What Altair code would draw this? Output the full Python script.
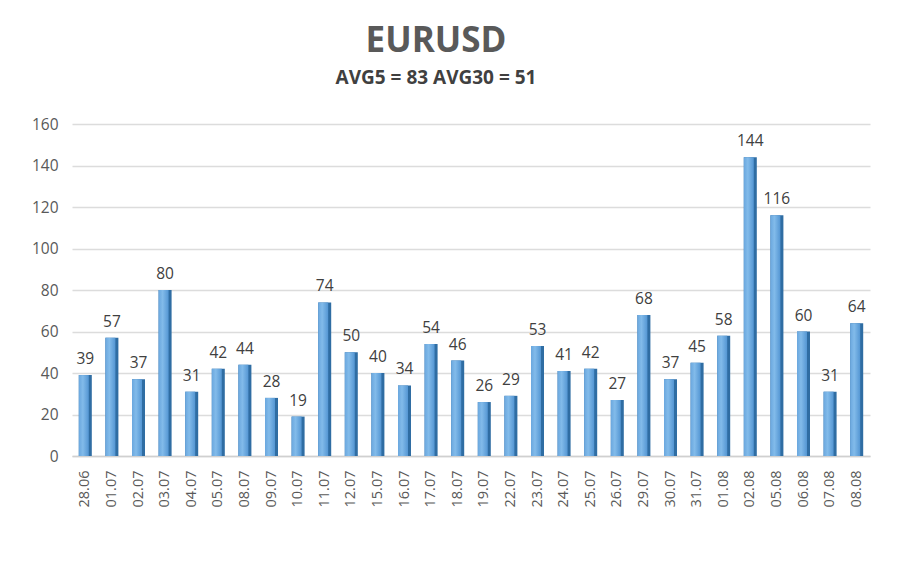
import altair as alt
import pandas as pd

dates = ["28.06", "01.07", "02.07", "03.07", "04.07", "05.07", "08.07", "09.07", "10.07", "11.07",
         "12.07", "15.07", "16.07", "17.07", "18.07", "19.07", "22.07", "23.07", "24.07", "25.07",
         "26.07", "29.07", "30.07", "31.07", "01.08", "02.08", "05.08", "06.08", "07.08", "08.08"]
values = [39, 57, 37, 80, 31, 42, 44, 28, 19, 74, 50, 40, 34, 54, 46, 26, 29, 53, 41, 42,
          27, 68, 37, 45, 58, 144, 116, 60, 31, 64]
y_ticks = [0, 20, 40, 60, 80, 100, 120, 140, 160]

df = pd.DataFrame({"date": dates, "value": values})

FONT = "Open Sans"

x = alt.X("date:N", sort=None, title=None,
          scale=alt.Scale(paddingInner=0.5, paddingOuter=0.25),
          axis=alt.Axis(labelAngle=270, labelFontSize=14.5, labelColor="#595959", labelFont=FONT,
                        labelPadding=14, ticks=False, domainColor="#d0d0d0", domainWidth=1.5,
                        labelBaseline="middle", grid=False))
y = alt.Y("value:Q", title=None,
          scale=alt.Scale(domain=[0, 160], nice=False),
          axis=alt.Axis(values=y_ticks, labelFontSize=15.5, labelColor="#595959", labelFont=FONT,
                        labelPadding=14, ticks=False, domain=False, gridColor="#dcdcdc",
                        gridWidth=1.5))

base = alt.Chart(df)

side = base.mark_bar(size=13, color="#2f6da3").encode(x=x, y=y)
front = base.mark_bar(
    size=10, xOffset=-1.5,
    color=alt.Gradient(gradient="linear", x1=0, x2=1, y1=0, y2=0,
                       stops=[alt.GradientStop(color="#6aa7de", offset=0),
                              alt.GradientStop(color="#82bbea", offset=0.4),
                              alt.GradientStop(color="#5496d3", offset=1)])
).encode(x=x, y=y)
labels = base.mark_text(baseline="bottom", dy=-8, fontSize=15.5, color="#404040", font=FONT).encode(
    x=x, y=y, text="value:Q")

chart = alt.layer(side, front, labels).properties(
    width=798, height=332,
    background="white",
    autosize=alt.AutoSizeParams(type="none"),
    padding={"left": 72, "top": 124, "right": 30, "bottom": 114},
    title=alt.TitleParams(
        text="EURUSD", subtitle="AVG5 = 83 AVG30 = 51",
        fontSize=35, font=FONT, fontWeight="bold", color="#595959",
        subtitleFontSize=19, subtitleFont=FONT, subtitleFontWeight="bold", subtitleColor="#404040",
        subtitlePadding=10, anchor="middle", dx=-35, offset=29),
).configure_view(strokeWidth=0, stroke="transparent")

chart.save("out.html", embed_options={"renderer": "svg", "actions": False})
